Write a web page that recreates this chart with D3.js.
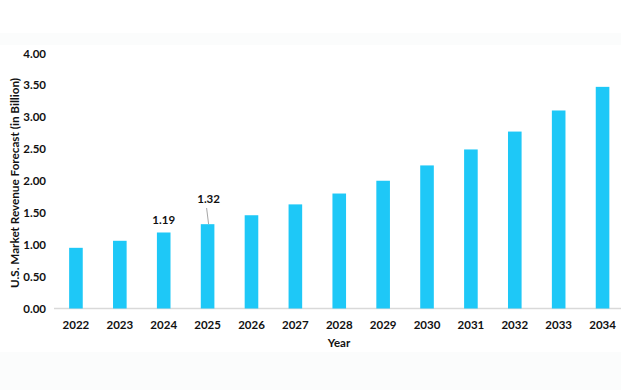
<!DOCTYPE html>
<html><head><meta charset="utf-8">
<script src="https://cdn.jsdelivr.net/npm/d3@7"></script>
<style>body{margin:0;background:#fff}svg{display:block}text{font-family:Lato,"Liberation Sans",sans-serif;font-weight:bold;fill:#111}</style>
</head><body><svg id="c" width="621" height="390"></svg>
<script>
const years = ["2022","2023","2024","2025","2026","2027","2028","2029","2030","2031","2032","2033","2034"];
const revenue = [0.95,1.06,1.19,1.32,1.46,1.63,1.80,2.00,2.24,2.49,2.77,3.10,3.47];
const yTicks = [0,0.5,1,1.5,2,2.5,3,3.5,4];
const labelled = {"2024":"1.19","2025":"1.32"};

const svg = d3.select("#c");
svg.append("rect").attr("x",0).attr("y",33).attr("width",621).attr("height",12).attr("fill","#fbfcfc");
svg.append("rect").attr("x",0).attr("y",352).attr("width",621).attr("height",38).attr("fill","#fbfcfc");

const x = d3.scaleBand().domain(years).range([54,624.5]).paddingInner(0.69).paddingOuter(0.345);
const y = d3.scaleLinear().domain([0,4]).range([308.5,53]);

svg.append("line").attr("x1",54).attr("x2",621).attr("y1",y(0)).attr("y2",y(0)).attr("stroke","#d9d9d9").attr("stroke-width",1.5);

svg.selectAll("rect.bar").data(years).join("rect").attr("class","bar")
  .attr("x",d=>x(d)).attr("width",x.bandwidth())
  .attr("y",(d,i)=>y(revenue[i])).attr("height",(d,i)=>y(0)-y(revenue[i]))
  .attr("fill","#1ec8f7");

const ya = svg.append("g").attr("transform","translate(46,0)")
  .call(d3.axisLeft(y).tickValues(yTicks).tickFormat(d3.format(".2f")).tickSize(0).tickPadding(0));
ya.select(".domain").remove();
ya.selectAll("text").style("font-size","11.5px").attr("dy","0.35em");

const xa = svg.append("g").attr("transform",`translate(0,${y(0)})`)
  .call(d3.axisBottom(x).tickSize(0).tickPadding(12));
xa.select(".domain").remove();
xa.selectAll("text").style("font-size","11.5px");

const i24 = years.indexOf("2024"), i25 = years.indexOf("2025");
svg.append("text").attr("x",x("2024")+x.bandwidth()/2).attr("y",y(revenue[i24])-8)
  .attr("text-anchor","middle").style("font-size","11.5px").text(labelled["2024"]);
const cx25 = x("2025")+x.bandwidth()/2;
svg.append("line").attr("x1",cx25-1).attr("y1",208).attr("x2",cx25+1).attr("y2",y(revenue[i25]))
  .attr("stroke","#a6a6a6").attr("stroke-width",1);
svg.append("text").attr("x",cx25+1).attr("y",203)
  .attr("text-anchor","middle").style("font-size","11.5px").text(labelled["2025"]);

svg.append("text").attr("transform","translate(19,183) rotate(-90)").attr("text-anchor","middle")
  .style("font-size","12px").attr("textLength",210).attr("lengthAdjust","spacingAndGlyphs")
  .text("U.S. Market Revenue Forecast (in Billion)");
svg.append("text").attr("x",339).attr("y",347).attr("text-anchor","middle").style("font-size","11.5px").text("Year");
</script></body></html>
